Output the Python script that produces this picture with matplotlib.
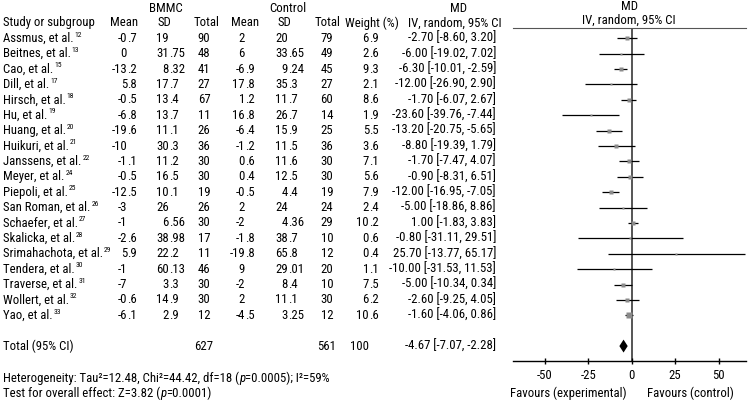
import os
import matplotlib
matplotlib.use("Agg")
import matplotlib.pyplot as plt
import matplotlib.font_manager as fm

# data
studies = ['Assmus, et al.', 'Beitnes, et al.', 'Cao, et al.', 'Dill, et al.', 'Hirsch, et al.',
           'Hu, et al.', 'Huang, et al.', 'Huikuri, et al.', 'Janssens, et al.', 'Meyer, et al.',
           'Piepoli, et al.', 'San Roman, et al.', 'Schaefer, et al.', 'Skalicka, et al.',
           'Srimahachota, et al.', 'Tendera, et al.', 'Traverse, et al.', 'Wollert, et al.', 'Yao, et al.']
refs = ['12', '13', '15', '17', '18', '19', '20', '21', '22', '24', '25', '26', '27', '28', '29',
        '30', '31', '32', '33']
bm_mean = ['-0.7', '0', '-13.2', '5.8', '-0.5', '-6.8', '-19.6', '-10', '-1.1', '-0.5', '-12.5',
           '-3', '-1', '-2.6', '5.9', '-1', '-7', '-0.6', '-6.1']
bm_sd = ['19', '31.75', '8.32', '17.7', '13.4', '13.7', '11.1', '30.3', '11.2', '16.5', '10.1',
         '26', '6.56', '38.98', '22.2', '60.13', '3.3', '14.9', '2.9']
bm_n = [90, 48, 41, 27, 67, 11, 26, 36, 30, 30, 19, 26, 30, 17, 11, 46, 30, 30, 12]
ct_mean = ['2', '6', '-6.9', '17.8', '1.2', '16.8', '-6.4', '-1.2', '0.6', '0.4', '-0.5', '2',
           '-2', '-1.8', '-19.8', '9', '-2', '2', '-4.5']
ct_sd = ['20', '33.65', '9.24', '35.3', '11.7', '26.7', '15.9', '11.5', '11.6', '12.5', '4.4',
         '24', '4.36', '38.7', '65.8', '29.01', '8.4', '11.1', '3.25']
ct_n = [79, 49, 45, 27, 60, 14, 25, 36, 30, 30, 19, 24, 29, 10, 12, 20, 10, 30, 12]
weight = [6.9, 2.6, 9.3, 2.1, 8.6, 1.9, 5.5, 3.6, 7.1, 5.6, 7.9, 2.4, 10.2, 0.6, 0.4, 1.1, 7.5, 6.2, 10.6]
md = [-2.70, -6.00, -6.30, -12.00, -1.70, -23.60, -13.20, -8.80, -1.70, -0.90, -12.00, -5.00,
      1.00, -0.80, 25.70, -10.00, -5.00, -2.60, -1.60]
lo = [-8.60, -19.02, -10.01, -26.90, -6.07, -39.76, -20.75, -19.39, -7.47, -8.31, -16.95, -18.86,
      -1.83, -31.11, -13.77, -31.53, -10.34, -9.25, -4.06]
hi = [3.20, 7.02, -2.59, 2.90, 2.67, -7.44, -5.65, 1.79, 4.07, 6.51, -7.05, 8.86, 3.83, 29.51,
      65.17, 11.53, 0.34, 4.05, 0.86]
total_bm, total_ct, total_w = 627, 561, 100
total_md, total_lo, total_hi = -4.67, -7.07, -2.28
xticks = [-50, -25, 0, 25, 50]


# the reference uses a condensed sans; take the narrowest one installed
def pick_font(italic=False):
    fonts = fm.fontManager.ttflist
    tests = [
        lambda f: f.name == 'Liberation Sans Narrow',
        lambda f: f.name == 'Roboto Condensed',
        lambda f: 'DejaVuSansCondensed' in os.path.basename(f.fname),
        lambda f: 'Narrow' in f.name or 'Condensed' in f.name,
        lambda f: 'Condensed' in os.path.basename(f.fname) or 'Narrow' in os.path.basename(f.fname),
    ]
    for test in tests:
        hits = [f for f in fonts if test(f) and f.weight in (400, 'normal', 'regular', 'book')
                and ((f.style != 'normal') == italic)]
        if hits:
            return fm.FontProperties(fname=sorted(hits, key=lambda f: f.fname)[0].fname)
    return None


FP = pick_font()
FPI = pick_font(italic=True)
if FP is None:
    FP = fm.FontProperties(family='Liberation Sans')
    FS = 8.0
else:
    FS = 9.2
if FPI is None:
    FPI = FP.copy()
    FPI.set_style('italic')
FP.set_size(FS)
FPI.set_size(FS)

W, H = 748, 403
fig = plt.figure(figsize=(W / 100, H / 100), dpi=100)
ylim = (23.70, -2.49)

# table: x in layout pixels, y in rows
tab = fig.add_axes([0, 0, 1, 1])
tab.set_xlim(0, W)
tab.set_ylim(*ylim)
tab.axis('off')


def txt(x, y, s, ha='left', ax=None):
    return (ax or tab).text(x, y, s, ha=ha, va='center', fontproperties=FP)


def dec_text(x, y, s):
    if '.' in s:
        a, b = s.split('.')
        txt(x, y, a, 'right')
        txt(x, y, '.' + b, 'left')
    else:
        txt(x, y, s, 'right')


def sup(t, s):
    sp = FP.copy()
    sp.set_size(FS * 0.6)
    tab.annotate(s, xy=(1, 1), xycoords=t, xytext=(0.6, 0.2), textcoords='offset points',
                 ha='left', va='top', fontproperties=sp)


def chain(t, s, fp):
    return tab.annotate(s, xy=(1, 0), xycoords=t, xytext=(0, 0), textcoords='offset points',
                        ha='left', va='bottom', fontproperties=fp)


# headers
txt(166, -1.97, 'BMMC', 'center')
txt(288, -1.97, 'Control', 'center')
txt(459, -1.97, 'MD', 'center')
txt(3, -1.0, 'Study or subgroup')
for x, lab in [(124, 'Mean'), (164, 'SD'), (207, 'Total'), (245, 'Mean'), (284, 'SD'),
               (328, 'Total'), (372, 'Weight (%)'), (455, 'IV, random, 95% CI')]:
    txt(x, -1.0, lab, 'center')

for i, name in enumerate(studies):
    sup(txt(3, i, name), refs[i])
    dec_text(127, i, bm_mean[i])
    dec_text(169, i, bm_sd[i])
    txt(204, i, str(bm_n[i]), 'center')
    dec_text(245, i, ct_mean[i])
    dec_text(288, i, ct_sd[i])
    txt(327, i, str(ct_n[i]), 'center')
    dec_text(369, i, f'{weight[i]:.1f}')
    txt(496, i, f'{md[i]:.2f} [{lo[i]:.2f}, {hi[i]:.2f}]', 'right')

txt(3, 20, 'Total (95% CI)')
txt(204, 20, str(total_bm), 'center')
txt(327, 20, str(total_ct), 'center')
dec_text(369, 20, str(total_w))
txt(496, 20, f'{total_md:.2f} [{total_lo:.2f}, {total_hi:.2f}]', 'right')

t = txt(3, 22.1, 'Heterogeneity: Tau\u00b2=12.48, Chi\u00b2=44.42, df=18 (')
t = chain(t, 'p', FPI)
chain(t, '=0.0005); I\u00b2=59%', FP)
t = txt(3, 23.1, 'Test for overall effect: Z=3.82 (')
t = chain(t, 'p', FPI)
chain(t, '=0.0001)', FP)

# forest plot
x0, x1 = 513, 746
ax = fig.add_axes([x0 / W, 0, (x1 - x0) / W, 1])
ax.set_xlim(-68.2, 65.7)
ax.set_ylim(*ylim)
ax.patch.set_alpha(0)
for s in ['left', 'right', 'top']:
    ax.spines[s].set_visible(False)
ax.spines['bottom'].set_position(('data', 21))
ax.spines['bottom'].set_linewidth(1.0)
ax.set_yticks([])
ax.set_xticks(xticks)
ax.set_xticklabels([str(v) for v in xticks], fontproperties=FP)
ax.tick_params(axis='x', direction='inout', length=5, width=1, pad=3)

txt(-1.5, -2.05, 'MD', 'center', ax)
txt(-1.5, -1.15, 'IV, random, 95% CI', 'center', ax)
ax.axhline(-0.68, color='#555555', lw=0.8, clip_on=False)
ax.vlines(0, -0.68, 21, color='#555555', lw=1.4, zorder=1)

rows = list(range(len(studies)))
ax.hlines(rows, lo, hi, color='black', lw=0.9, zorder=2)
for i in rows:
    ax.plot(md[i], i, 's', color='#8a8a8a', mec='none', ms=(2.2 + 0.27 * weight[i]) / 1.39, zorder=3)

ax.fill([total_lo, total_md, total_hi, total_md], [20, 20 - 0.42, 20, 20 + 0.42],
        color='black', lw=0, zorder=3)

txt(-2.7, 23.1, 'Favours (experimental)', 'right', ax)
txt(9.0, 23.1, 'Favours (control)', 'left', ax)

fig.savefig('out.png', dpi=100)
